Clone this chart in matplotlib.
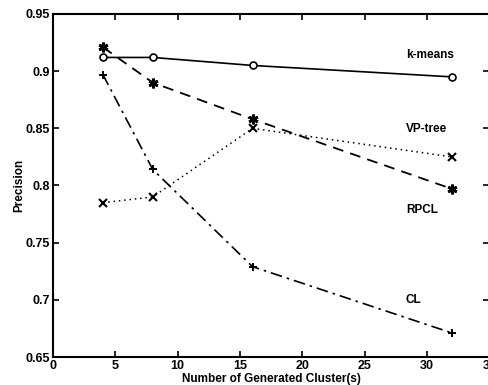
import matplotlib
matplotlib.use("Agg")
import matplotlib.pyplot as plt

clusters = [4, 8, 16, 32]
kmeans = [0.912, 0.912, 0.905, 0.895]
vptree = [0.785, 0.790, 0.850, 0.825]
rpcl = [0.921, 0.890, 0.858, 0.797]
cl = [0.897, 0.814, 0.729, 0.671]

series_names = ["k-means", "VP-tree", "RPCL", "CL"]
label_pos = [(28.3, 0.914), (28.3, 0.849), (28.3, 0.779), (28.3, 0.700)]

plt.rcParams['font.family'] = ['Liberation Sans', 'DejaVu Sans']
fig = plt.figure(figsize=(4.89, 3.85), dpi=100)
ax = fig.add_axes([53/489, 1 - 357/385, (489.5-53)/489, (357-14)/385])

ax.plot(clusters, kmeans, color='black', linestyle='-', linewidth=1.2,
        marker='o', markersize=5, markerfacecolor='white', markeredgecolor='black', markeredgewidth=1.2)
ax.plot(clusters, rpcl, color='black', linestyle=(0, (6, 4)), linewidth=1.3,
        marker=(6, 2, 0), markersize=7, markeredgewidth=2, markeredgecolor='black')
ax.plot(clusters, vptree, color='black', linestyle=(0, (1, 2.5)), linewidth=1.1,
        marker='x', markersize=6, markeredgewidth=1.5, markeredgecolor='black')
ax.plot(clusters, cl, color='black', linestyle=(0, (7, 3, 1.5, 3)), linewidth=1.2,
        marker='+', markersize=6, markeredgewidth=1.4, markeredgecolor='black')

for name, (lx, ly) in zip(series_names, label_pos):
    ax.text(lx, ly, name, fontsize=8.5, fontweight='bold', ha='left', va='center')

ax.set_xlim(0, 35)
ax.set_ylim(0.65, 0.95)
ax.set_xticks([0, 5, 10, 15, 20, 25, 30, 35])
ax.set_xticklabels(["0", "5", "10", "15", "20", "25", "30", "35"])
ax.set_yticks([0.65, 0.7, 0.75, 0.8, 0.85, 0.9, 0.95])
ax.set_yticklabels(["0.65", "0.7", "0.75", "0.8", "0.85", "0.9", "0.95"])
ax.tick_params(direction='in', top=True, right=True, length=4, width=1.2,
               labelsize=9, pad=2)
for lbl in ax.get_xticklabels() + ax.get_yticklabels():
    lbl.set_fontweight('bold')
for sp in ax.spines.values():
    sp.set_linewidth(1.5)

ax.set_xlabel("Number of Generated Cluster(s)", fontsize=8.5, fontweight='bold', labelpad=1)
ax.set_ylabel("Precision", fontsize=8.5, fontweight='bold', labelpad=0)

fig.savefig("out.png", dpi=100)
